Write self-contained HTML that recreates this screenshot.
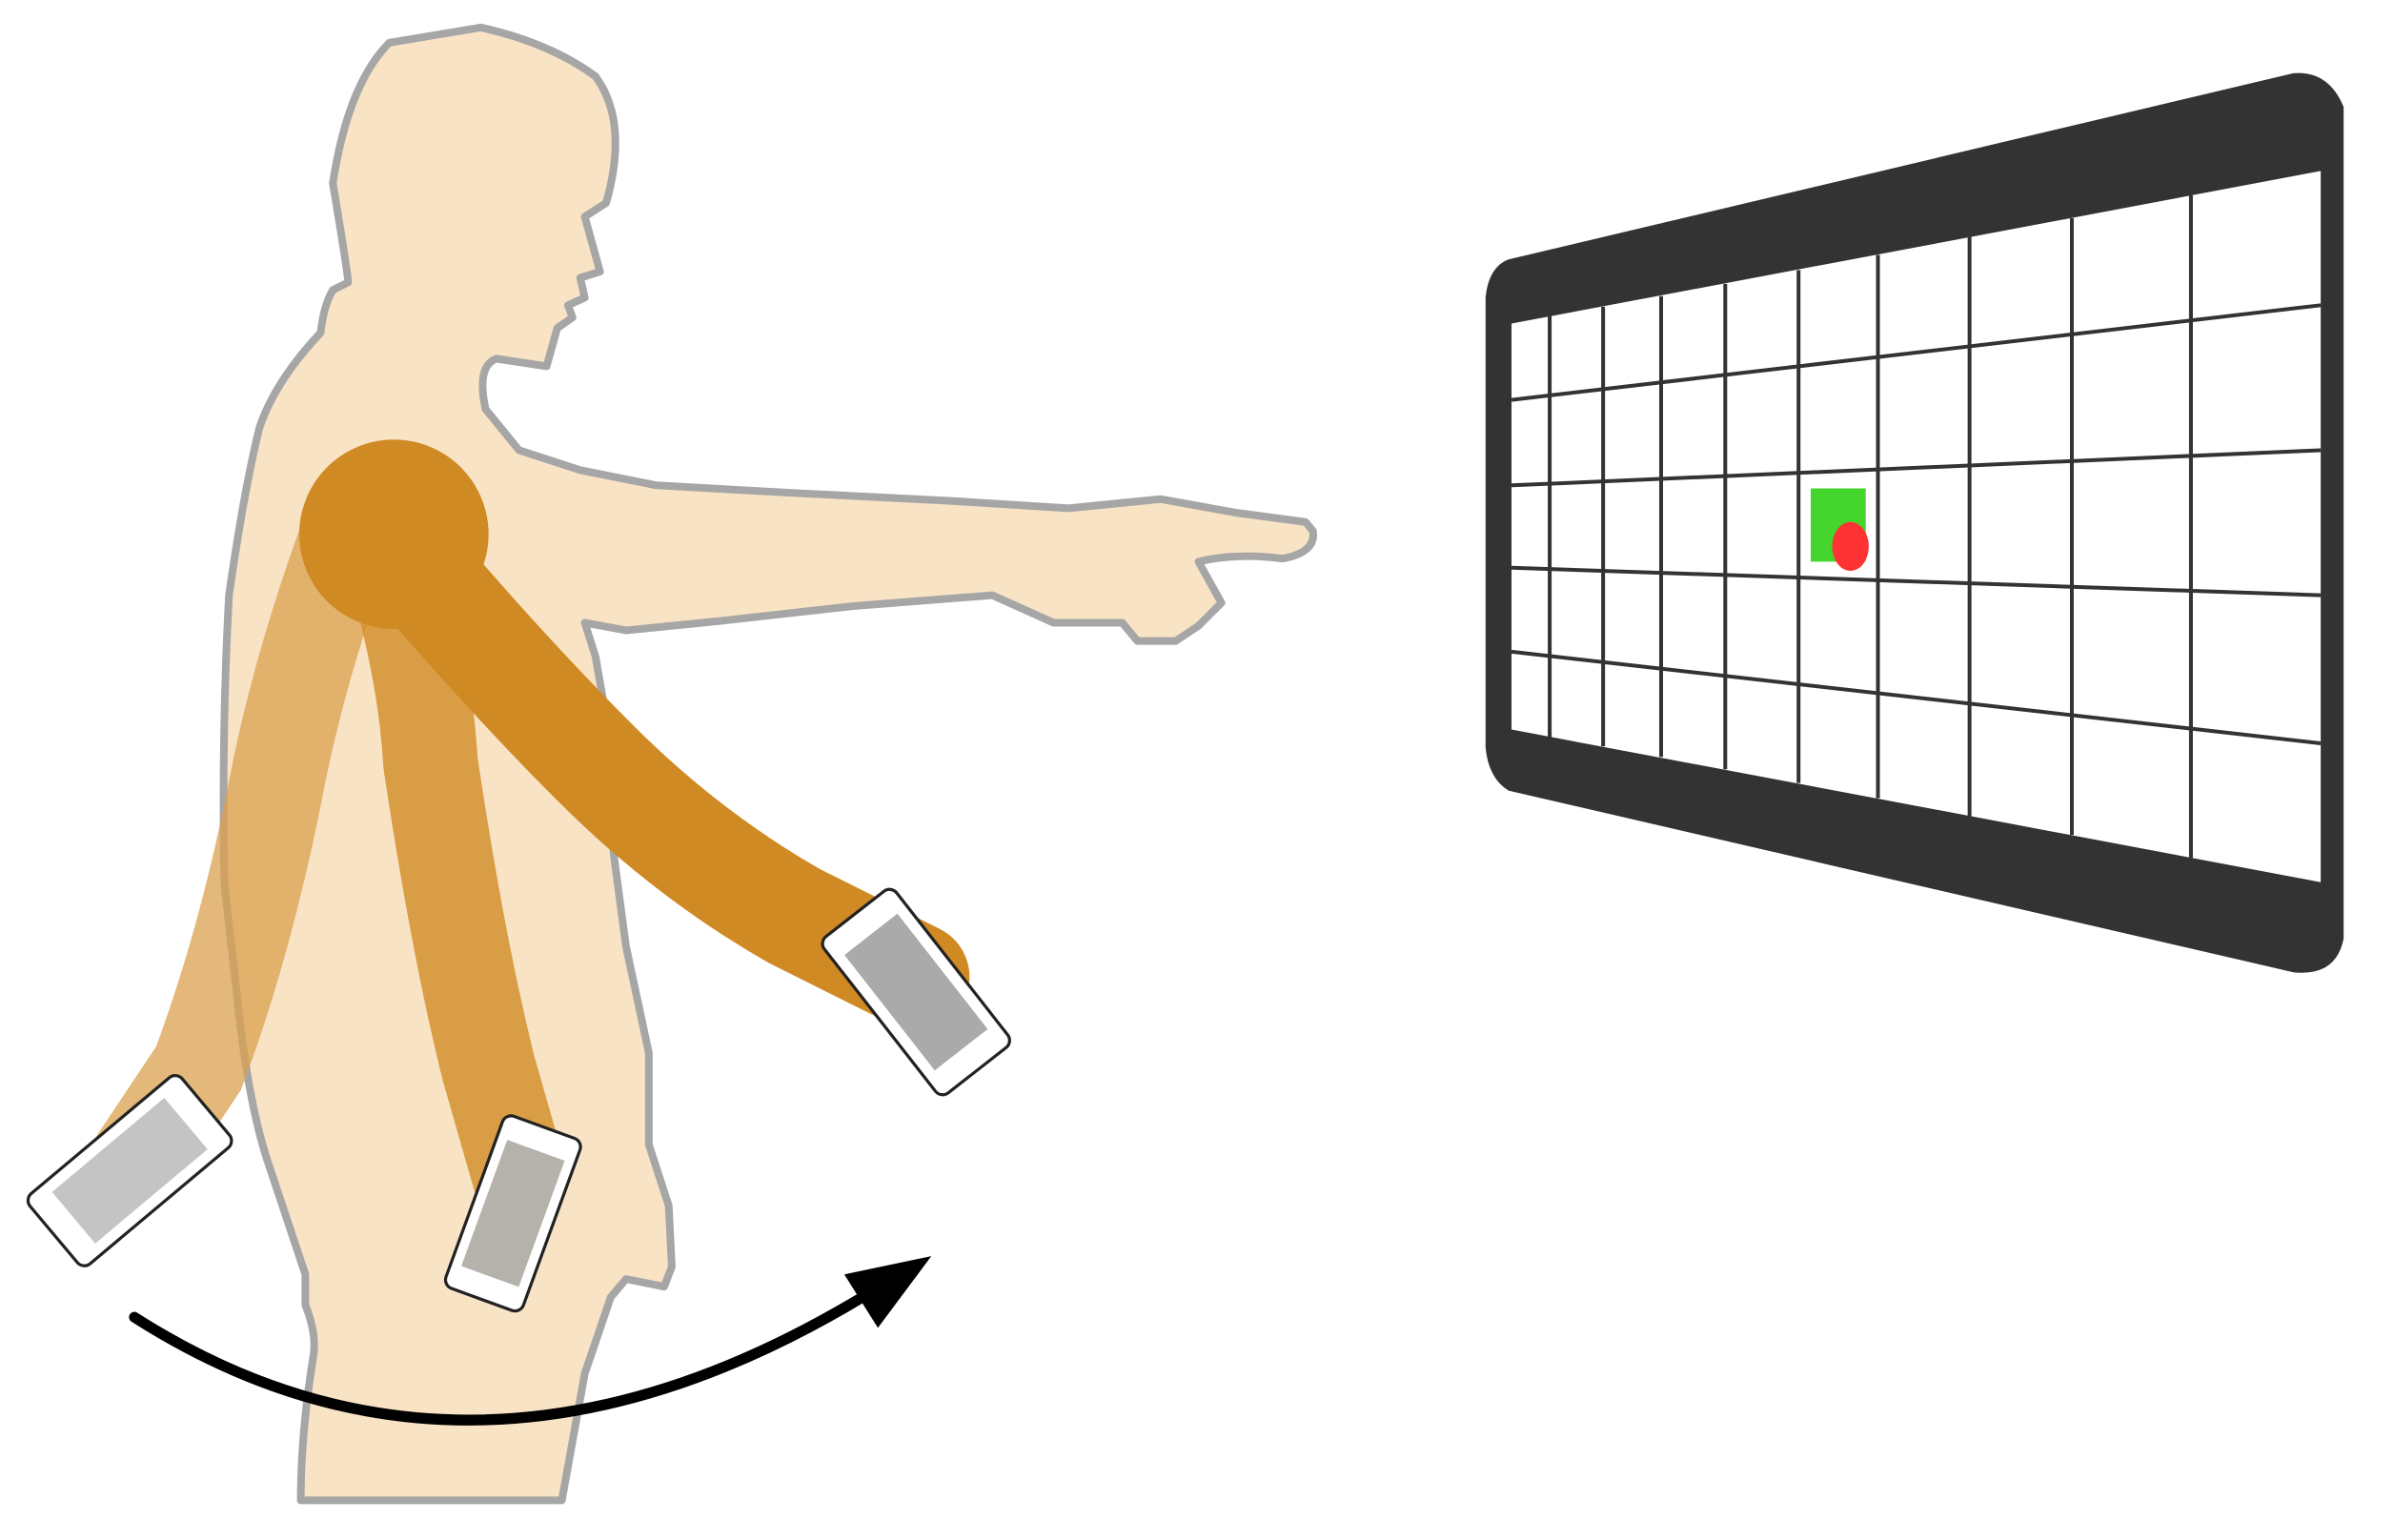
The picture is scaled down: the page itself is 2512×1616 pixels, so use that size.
<!DOCTYPE html>
<html><head><meta charset="utf-8"><style>html,body{margin:0;padding:0;background:#fff}svg{display:block}</style></head>
<body>
<svg width="2512" height="1616" viewBox="0 0 1568 1009" preserveAspectRatio="none" xmlns="http://www.w3.org/2000/svg">
<rect width="1568" height="1009" fill="#fff"/>
<g>
<path d="M200,983 L368,983 L383,900 L400,850 L410,838 L435,843 L440,830 L438,790 L425,750 L425,690 L410,620 L402,560 L397,470 L390,430 L383,408 L410,413 L470,407 L560,397 L650,390 L690,408 L735,408 L745,420 L770,420 L785,410 L800,395 L785,368 Q810,362 840,366 Q862,362 860,348 L855,342 L810,336 L760,327 L700,333 L620,328 L520,323 L430,318 L380,308 L340,295 L318,268 Q312,240 325,235 L358,240 L365,215 L375,208 L372,200 L383,195 L380,182 L393,178 L383,142 L397,133 Q412,80 390,50 Q360,28 315,18 L255,28 Q228,55 218,120 Q228,180 228,185 L218,190 Q212,200 210,218 Q180,250 170,280 Q160,320 150,390 Q145,480 147,580 L155,650 Q162,720 175,760 L200,835 L200,855 Q208,875 205,890 Q197,940 197,983 Z" fill="#f9e3c5" stroke="#a6a6a6" stroke-width="5" stroke-linejoin="round"/>
</g>
<g opacity="0.75">
<path d="M228,350 Q195,440 180,520 Q160,620 130,700 L90,760" fill="none" stroke="#d9a04e" stroke-width="62" stroke-linecap="round"/>
</g>
<g opacity="0.85">
<path d="M250,345 Q278,430 282,500 Q300,620 320,700 L340,770" fill="none" stroke="#d4922e" stroke-width="62" stroke-linecap="round"/>
</g>
<g>
<circle cx="258" cy="350" r="62" fill="#d08a24"/>
<path d="M262,360 Q330,440 390,500 Q450,560 520,600 L600,640" fill="none" stroke="#d08a24" stroke-width="70" stroke-linecap="round"/>
</g>
<g transform="translate(600,650) rotate(-38)">
<rect x="-30" y="-65" width="60" height="130" rx="6" fill="#fff" stroke="#222" stroke-width="2"/>
<rect x="-22" y="-48" width="44" height="96" fill="#aaa"/>
</g>
<g transform="translate(336,795) rotate(20)">
<rect x="-27" y="-60" width="54" height="120" rx="6" fill="#fff" stroke="#222" stroke-width="2"/>
<rect x="-20" y="-44" width="40" height="88" fill="#b5b1ab"/>
</g>
<g transform="translate(85,767) rotate(50)">
<rect x="-30" y="-65" width="60" height="130" rx="6" fill="#fff" stroke="#222" stroke-width="2"/>
<rect x="-22" y="-48" width="44" height="96" fill="#c4c4c4"/>
</g>
<g>
<path d="M88,863 Q310,1005 568,848" fill="none" stroke="#000" stroke-width="7" stroke-linecap="round"/>
<polygon points="553,835 610,823 575,870" fill="#000"/>
</g>
<g>
<path d="M988,170 L1502,48 Q1525,46 1535,70 L1535,615 Q1530,640 1502,637 L988,518 Q975,510 973,490 L973,195 Q975,175 988,170 Z" fill="#333"/>
<polygon points="990,212 1520,112 1520,578 990,478" fill="#fff"/>
<g stroke="#333" stroke-width="2.5">
<line x1="1015" y1="207" x2="1015" y2="483"/>
<line x1="1050" y1="201" x2="1050" y2="489"/>
<line x1="1088" y1="194" x2="1088" y2="496"/>
<line x1="1130" y1="186" x2="1130" y2="504"/>
<line x1="1178" y1="177" x2="1178" y2="513"/>
<line x1="1230" y1="167" x2="1230" y2="523"/>
<line x1="1290" y1="155" x2="1290" y2="535"/>
<line x1="1357" y1="143" x2="1357" y2="547"/>
<line x1="1435" y1="128" x2="1435" y2="562"/>
<line x1="990" y1="262" x2="1520" y2="200"/>
<line x1="990" y1="318" x2="1520" y2="295"/>
<line x1="990" y1="372" x2="1520" y2="390"/>
<line x1="990" y1="427" x2="1520" y2="487"/>
</g>
<rect x="1186" y="320" width="36" height="48" fill="#44d62c"/>
<ellipse cx="1212" cy="358" rx="12" ry="16" fill="#ff3333"/>
</g>
</svg>
</body></html>
